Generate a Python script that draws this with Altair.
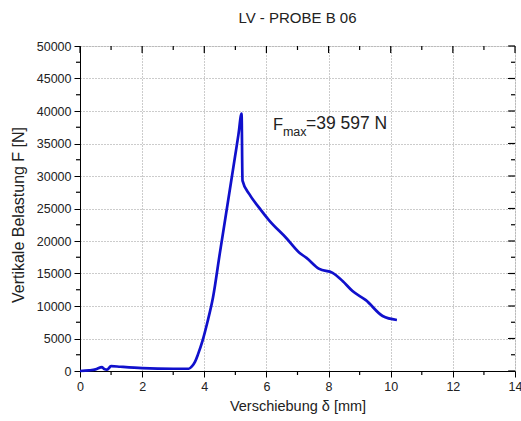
import altair as alt
import pandas as pd

# Curve data (displacement mm, force N)
disp = [0.0, 0.3, 0.5, 0.71, 0.78, 0.87, 1.0, 1.3, 2.0, 3.0, 3.5, 3.6, 3.7, 3.8, 3.94,
        4.1, 4.28, 4.5, 4.75, 5.0, 5.1, 5.2, 5.23, 5.45, 5.77, 6.1, 6.63, 7.06, 7.29, 7.7,
        8.13, 8.45, 8.77, 9.2, 9.74, 10.2]
force = [0, 100, 250, 600, 300, 200, 750, 650, 450, 350, 350, 700, 1400, 2600, 4600,
         7500, 11300, 18100, 25700, 33300, 36400, 39597, 29300, 27200, 25100, 23100, 20500,
         18200, 17400, 15700, 15100, 13850, 12300, 10900, 8460, 7850]

x_major = [0, 2, 4, 6, 8, 10, 12, 14]
x_minor = [1, 3, 5, 7, 9, 11, 13]
y_major = [0, 5000, 10000, 15000, 20000, 25000, 30000, 35000, 40000, 45000, 50000]
y_minor = [2500, 7500, 12500, 17500, 22500, 27500, 32500, 37500, 42500, 47500]

FONT = "Liberation Sans"
W, H = 435, 325
XT = "Verschiebung δ [mm]"
YT = "Vertikale Belastung F [N]"

df = pd.DataFrame({"d": disp, "f": force})
xs = alt.Scale(domain=[0, 14], nice=False)
ys = alt.Scale(domain=[0, 50000], nice=False)

ax_x = alt.Axis(values=x_major, tickSize=6, labelPadding=3, titlePadding=7,
                grid=True, gridColor="#999999", gridDash=[1, 2], gridWidth=1,
                domainColor="black", tickColor="black", labelFontSize=12.5,
                titleFontSize=14.5, labelFont=FONT, titleFont=FONT,
                titleFontWeight="normal", labelColor="#222", titleColor="#222",
                labelFlush=False, labelOverlap=False)
ax_y = alt.Axis(values=y_major, format="d", tickSize=6, labelPadding=3, titlePadding=10,
                grid=True, gridColor="#999999", gridDash=[1, 2], gridWidth=1,
                domainColor="black", tickColor="black", labelFontSize=12.5,
                titleFontSize=16, labelFont=FONT, titleFont=FONT, titleY=H / 2 + 6,
                titleFontWeight="normal", labelColor="#222", titleColor="#222",
                labelOverlap=False)


def X(field):
    return alt.X(field, scale=xs, axis=ax_x, title=XT)


def Y(field):
    return alt.Y(field, scale=ys, axis=ax_y, title=YT)


line = alt.Chart(df).mark_line(color="#1010cc", strokeWidth=2.7, strokeJoin="round",
                               interpolate="monotone").encode(x=X("d:Q"), y=Y("f:Q"))

xmaj = pd.DataFrame({"v": x_major})
xmin = pd.DataFrame({"v": x_minor})
ymaj = pd.DataFrame({"v": y_major})
ymin = pd.DataFrame({"v": y_minor})

rule = dict(color="black", strokeWidth=1.2)
top_major = alt.Chart(xmaj).mark_rule(**rule).encode(
    x=X("v:Q"), y=alt.value(0), y2=alt.value(7))
top_minor = alt.Chart(xmin).mark_rule(**rule).encode(
    x=X("v:Q"), y=alt.value(0), y2=alt.value(4))
bot_minor = alt.Chart(xmin).mark_rule(**rule).encode(
    x=X("v:Q"), y=alt.value(H), y2=alt.value(H + 4))
right_major = alt.Chart(ymaj).mark_rule(**rule).encode(
    y=Y("v:Q"), x=alt.value(W), x2=alt.value(W - 7))
right_minor = alt.Chart(ymin).mark_rule(**rule).encode(
    y=Y("v:Q"), x=alt.value(W), x2=alt.value(W - 4))
left_minor = alt.Chart(ymin).mark_rule(**rule).encode(
    y=Y("v:Q"), x=alt.value(-4), x2=alt.value(0))

ann = pd.DataFrame({"ax": [6.21], "ay": [37100]})
f_txt = alt.Chart(ann).mark_text(text="F", font=FONT, fontSize=16.5, align="left",
                                 baseline="alphabetic", color="#222").encode(
    x=X("ax:Q"), y=Y("ay:Q"))
sub_txt = alt.Chart(ann).mark_text(text="max", font=FONT, fontSize=12.5, align="left",
                                   baseline="alphabetic", color="#222", dx=10, dy=6).encode(
    x=X("ax:Q"), y=Y("ay:Q"))
val_txt = alt.Chart(ann).mark_text(text="=39 597 N", font=FONT, fontSize=17.5, align="left",
                                   baseline="alphabetic", color="#222", dx=33, dy=-1).encode(
    x=X("ax:Q"), y=Y("ay:Q"))

chart = alt.layer(
    line, top_major, top_minor, bot_minor, right_major, right_minor, left_minor,
    f_txt, sub_txt, val_txt
).properties(
    width=W, height=H,
    title=alt.TitleParams("LV - PROBE B 06", font=FONT, fontSize=15, fontWeight="normal",
                          anchor="middle", offset=14, color="#222"),
    autosize=alt.AutoSizeParams(type="none"),
    padding={"left": 80, "top": 46, "right": 6, "bottom": 50},
).configure_view(stroke="black", strokeWidth=1.2).configure(background="white")

chart.save("out.html", embed_options={"renderer": "svg", "actions": False})
